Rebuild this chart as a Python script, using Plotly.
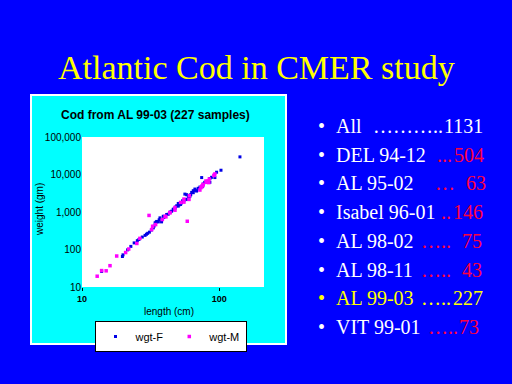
import math
import plotly.graph_objects as go

# ---------------- data ----------------
len_f = [13.9, 19.7, 19.9, 21.5, 22.7, 24.0, 25.3, 26.0, 27.5, 28.8, 29.5, 30.1, 31.0, 32.0,
         33.1, 33.5, 34.1, 34.6, 35.0, 36.0, 36.5, 37.0, 38.0, 39.1, 39.5, 41.4, 42.5, 44.0,
         45.0, 46.3, 46.3, 47.5, 48.0, 49.0, 50.3, 50.3, 51.0, 52.3, 53.0, 54.1, 55.0, 56.0,
         56.2, 57.9, 57.9, 59.5, 60.0, 61.2, 62.0, 63.0, 64.7, 64.7, 66.5, 67.0, 68.4, 70.3,
         71.1, 72.3, 74.5, 75.7, 76.4, 78.7, 78.7, 85.5, 85.5, 88.0, 93.0, 95.7, 103.0, 141.6]
wgt_f = [26, 65, 72, 98, 121, 150, 172, 185, 215, 238, 255, 270, 290, 330,
         377, 420, 513, 532, 560, 545, 620, 698, 545, 770, 711, 857, 873, 1000,
         1050, 1170, 1190, 1250, 1350, 1466, 1431, 1690, 1550, 1590, 1750, 1995, 1900, 2100,
         3000, 2166, 2897, 2560, 2500, 2655, 2900, 3335, 3273, 3700, 4090, 3800, 3615, 4280,
         4200, 4620, 8280, 4750, 5570, 6080, 6200, 7780, 6200, 8430, 8280, 11500, 13000, 29500]

len_m = [12.9, 13.9, 15.0, 16.0, 17.9, 20.8, 21.9, 25.1, 26.4, 30.8, 32.2, 32.7, 34.4, 38.5,
         40.3, 40.9, 43.7, 43.7, 47.6, 47.6, 52.3, 55.3, 55.3, 58.5, 60.2, 60.6, 72.3, 73.6,
         74.5, 75.0, 76.4, 76.4, 80.0, 81.0, 83.0, 84.0, 84.7, 91.5, 92.0, 93.0]
wgt_m = [19.4, 27.4, 27, 37, 67, 83, 103, 145, 198, 810, 339, 416, 462, 631,
         770, 743, 950, 970, 1117, 1320, 1800, 1834, 2208, 566, 2166, 2720, 3850, 4470,
         4750, 4930, 5470, 5250, 6710, 6200, 6710, 6080, 7600, 9380, 9550, 10350]

x_ticks = [10, 100]
x_ticklabels = ["10", "100"]
y_ticks = [10, 100, 1000, 10000, 100000]
y_ticklabels = ["10", "100", "1,000", "10,000", "100,000"]

chart_title = "Cod from AL 99-03 (227 samples)"
x_title = "length (cm)"
y_title = "weight (gm)"
slide_title = "Atlantic Cod in CMER study"

cruise_labels = ["All", "DEL 94-12", "AL 95-02", "Isabel 96-01", "AL 98-02", "AL 98-11", "AL 99-03", "VIT 99-01"]
cruise_leaders = ["\u2026\u2026\u2026..", "...", "\u2026", "..", "\u2026..", "\u2026..", "\u2026..", "\u2026.."]
cruise_counts = [1131, 504, 63, 146, 75, 43, 227, 73]

# ---------------- layout helpers ----------------
W, H = 512, 384
PL, PR, PT, PB = 82, 264, 137, 287


def px(x):
    return (x - PL) / (PR - PL)


def py(y):
    return (PB - y) / (PB - PT)


BLUE_BG = "#0000FF"
YELLOW = "#FFFF00"
RED = "#FF0040"
SANS = "Liberation Sans, Arial, sans-serif"
SERIF = "Liberation Serif, Times New Roman, serif"

fig = go.Figure()
fig.add_trace(go.Scatter(x=len_f, y=wgt_f, mode="markers", name="wgt-F",
                         marker=dict(symbol="square", size=3, color="#0000E6", line=dict(width=0))))
fig.add_trace(go.Scatter(x=len_m, y=wgt_m, mode="markers", name="wgt-M",
                         marker=dict(symbol="square", size=3.5, color="#FF00FF", line=dict(width=0))))

shapes = [
    dict(type="rect", xref="paper", yref="paper", x0=px(31), x1=px(286), y0=py(344), y1=py(95),
         fillcolor="#00FFFF", line=dict(color="white", width=2), layer="below"),
    dict(type="rect", xref="paper", yref="paper", x0=0, x1=1, y0=0, y1=1,
         fillcolor="white", line=dict(width=0), layer="below"),
]

annotations = [
    dict(text="<b>%s</b>" % chart_title, x=px(155), y=py(115), xref="paper", yref="paper",
         showarrow=False, xanchor="center", yanchor="middle", font=dict(family=SANS, size=12, color="black")),
    dict(text=x_title, x=px(169), y=py(311), xref="paper", yref="paper",
         showarrow=False, xanchor="center", yanchor="middle", font=dict(family=SANS, size=10, color="black")),
    dict(text=y_title, x=px(39), y=py(210), xref="paper", yref="paper", textangle=-90,
         showarrow=False, xanchor="center", yanchor="middle", font=dict(family=SANS, size=10, color="black")),
    dict(text=slide_title, x=px(256.5), y=py(67.5), xref="paper", yref="paper",
         showarrow=False, xanchor="center", yanchor="middle", font=dict(family=SERIF, size=34, color=YELLOW)),
]

leader_x = [373, 436.7, 435, 440.7, 420.7, 420.7, 420.7, 427.7]
count_right = [485, 486, 488, 485, 483.5, 483.5, 485, 481]
for i, (lab, lead, cnt) in enumerate(zip(cruise_labels, cruise_leaders, cruise_counts)):
    yc = 126 + i * 28.7
    if i == 6:
        c_lab = c_rest = c_bul = YELLOW
    elif i == 0:
        c_lab = c_rest = c_bul = "white"
    else:
        c_lab, c_rest, c_bul = "white", RED, "white"
    f = lambda c: dict(family=SERIF, size=20, color=c)
    annotations += [
        dict(text="\u2022", x=px(321), y=py(yc), xref="paper", yref="paper", showarrow=False,
             xanchor="center", yanchor="middle", font=f(c_bul)),
        dict(text=lab, x=px(334), y=py(yc), xref="paper", yref="paper", showarrow=False,
             xanchor="left", yanchor="middle", font=f(c_lab)),
        dict(text=lead, x=px(leader_x[i] - 2), y=py(yc), xref="paper", yref="paper", showarrow=False,
             xanchor="left", yanchor="middle", font=f(c_rest)),
        dict(text=str(cnt), x=px(count_right[i]), y=py(yc), xref="paper", yref="paper", showarrow=False,
             xanchor="right", yanchor="middle", font=f(c_rest)),
    ]

fig.update_layout(
    width=W, height=H,
    margin=dict(l=PL, r=W - PR, t=PT, b=H - PB, pad=0),
    paper_bgcolor=BLUE_BG, plot_bgcolor="white",
    showlegend=True,
    legend=dict(orientation="h", xref="container", yref="container",
                x=170.5 / W, y=1 - 321 / H, xanchor="center", yanchor="top",
                bgcolor="white", bordercolor="black", borderwidth=1,
                font=dict(family=SANS, size=11, color="black"), itemwidth=30),
    shapes=shapes, annotations=annotations,
    xaxis=dict(type="log", range=[1, math.log10(212)], tickvals=x_ticks, ticktext=x_ticklabels,
               tickfont=dict(family=SANS, size=9, color="black", weight="bold"),
               ticks="outside", ticklen=3, tickcolor="black", tickwidth=1,
               showgrid=False, zeroline=False, showline=False, automargin=False),
    yaxis=dict(type="log", range=[1, 5], tickvals=y_ticks, ticktext=y_ticklabels,
               tickfont=dict(family=SANS, size=10, color="black"),
               ticks="", showgrid=False, zeroline=False, showline=False, automargin=False),
)

fig.write_html("out.html", config={"displayModeBar": False},
               post_script="document.body.style.margin='0px';")
